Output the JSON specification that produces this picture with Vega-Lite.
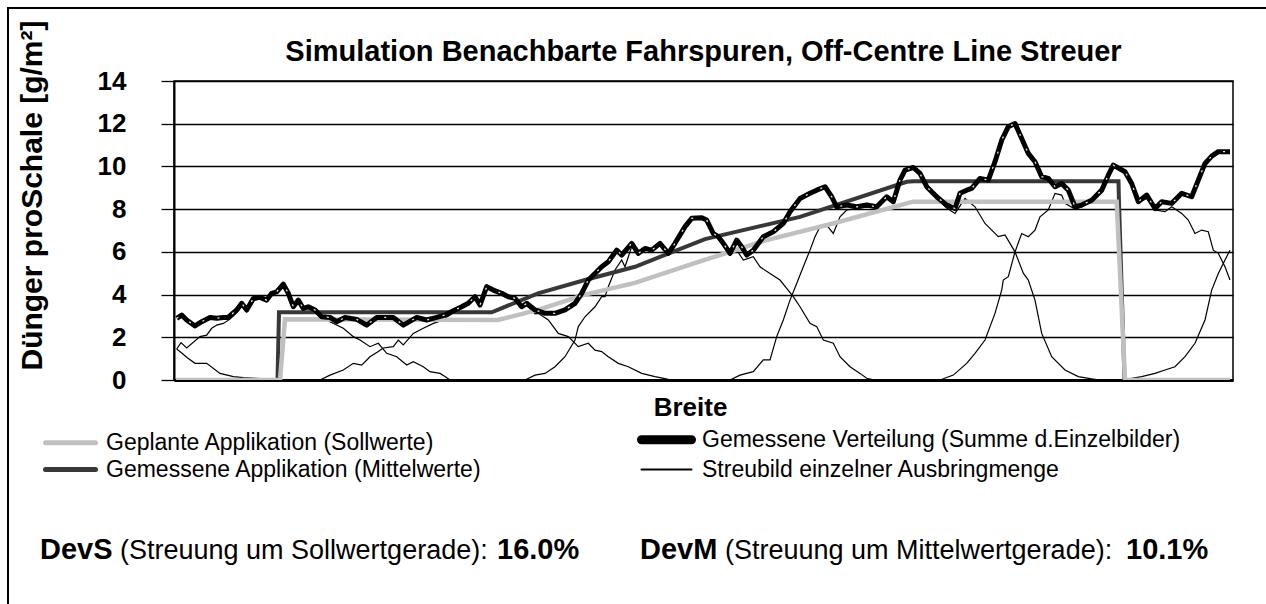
{
  "$schema": "https://vega.github.io/schema/vega-lite/v6.json",
  "width": 1059,
  "height": 299,
  "autosize": {"type": "none"},
  "padding": {"left": 174, "top": 81, "right": 33, "bottom": 224},
  "background": "white",
  "config": {
    "font": "Liberation Sans",
    "view": {"stroke": "#000", "strokeWidth": 1.5},
    "legend": {
      "orient": "none", "legendX": -132, "legendY": 347, "columns": 2, "columnPadding": 141,
      "symbolType": "M-1,0H5.25", "symbolSize": 256, "labelFontSize": 23, "labelFont": "Liberation Sans",
      "labelColor": "#000", "rowPadding": 0, "labelOffset": 41, "labelLimit": 700
    }
  },
  "title": {"text": "Simulation Benachbarte Fahrspuren, Off-Centre Line Streuer", "fontSize": 29, "fontWeight": "bold", "anchor": "middle", "frame": "group", "offset": 0, "dy": 60, "color": "#000"},
  "datasets": {
    "d": [
      {"s":"streu","c":"A0","x":2.7,"v":1.45},{"s":"streu","c":"A0","x":8,"v":1.25},{"s":"streu","c":"A0","x":13,"v":1.05},{"s":"streu","c":"A0","x":21,"v":0.78},{"s":"streu","c":"A0","x":32.7,"v":0.78},{"s":"streu","c":"A0","x":46,"v":0.31},{"s":"streu","c":"A0","x":59.3,"v":0.16},{"s":"streu","c":"A0","x":69.3,"v":0.11},{"s":"streu","c":"A0","x":82.7,"v":0.08},{"s":"streu","c":"A0","x":96,"v":0.03},{"s":"streu","c":"A0","x":115,"v":0},
      {"s":"streu","c":"A","x":2.7,"v":1.45},{"s":"streu","c":"A","x":7,"v":1.75},{"s":"streu","c":"A","x":12.7,"v":1.5},{"s":"streu","c":"A","x":26,"v":2.03},{"s":"streu","c":"A","x":32.7,"v":2.1},{"s":"streu","c":"A","x":37.7,"v":2.42},{"s":"streu","c":"A","x":42.7,"v":2.57},{"s":"streu","c":"A","x":49.3,"v":2.65},{"s":"streu","c":"A","x":56,"v":2.85},{"s":"streu","c":"A","x":62.7,"v":3.15},{"s":"streu","c":"A","x":67.7,"v":3.45},{"s":"streu","c":"A","x":72.7,"v":3.18},{"s":"streu","c":"A","x":79.3,"v":3.72},{"s":"streu","c":"A","x":86,"v":3.8},{"s":"streu","c":"A","x":92.7,"v":3.7},{"s":"streu","c":"A","x":97.7,"v":4.02},{"s":"streu","c":"A","x":102.7,"v":4.1},{"s":"streu","c":"A","x":109.3,"v":4.45},{"s":"streu","c":"A","x":114.3,"v":4.03},{"s":"streu","c":"A","x":119.3,"v":3.4},{"s":"streu","c":"A","x":124.3,"v":3.72},{"s":"streu","c":"A","x":129.3,"v":3.33},{"s":"streu","c":"A","x":134.3,"v":3.41},{"s":"streu","c":"A","x":141,"v":3.26},{"s":"streu","c":"A","x":146,"v":3.1},{"s":"streu","c":"A","x":156,"v":2.73},{"s":"streu","c":"A","x":169.3,"v":2.42},{"s":"streu","c":"A","x":179.3,"v":2.03},{"s":"streu","c":"A","x":186,"v":1.87},{"s":"streu","c":"A","x":196,"v":1.56},{"s":"streu","c":"A","x":204.3,"v":1.72},{"s":"streu","c":"A","x":212.7,"v":1.25},{"s":"streu","c":"A","x":222.7,"v":1.09},{"s":"streu","c":"A","x":232.7,"v":0.7},{"s":"streu","c":"A","x":239.3,"v":0.86},{"s":"streu","c":"A","x":249.3,"v":0.62},{"s":"streu","c":"A","x":256,"v":0.39},{"s":"streu","c":"A","x":266,"v":0.31},{"s":"streu","c":"A","x":271,"v":0.16},{"s":"streu","c":"A","x":276,"v":0},
      {"s":"streu","c":"B","x":146,"v":0},{"s":"streu","c":"B","x":156,"v":0.23},{"s":"streu","c":"B","x":169.3,"v":0.47},{"s":"streu","c":"B","x":179.3,"v":0.78},{"s":"streu","c":"B","x":187.7,"v":0.7},{"s":"streu","c":"B","x":196,"v":1.09},{"s":"streu","c":"B","x":204.3,"v":1.33},{"s":"streu","c":"B","x":209.3,"v":1.5},{"s":"streu","c":"B","x":219.3,"v":1.56},{"s":"streu","c":"B","x":224.3,"v":1.87},{"s":"streu","c":"B","x":229.3,"v":1.64},{"s":"streu","c":"B","x":239.3,"v":2.18},{"s":"streu","c":"B","x":249.3,"v":2.42},{"s":"streu","c":"B","x":259.3,"v":2.65},{"s":"streu","c":"B","x":266,"v":2.75},{"s":"streu","c":"B","x":271,"v":2.89},{"s":"streu","c":"B","x":281,"v":3.2},{"s":"streu","c":"B","x":287.7,"v":3.4},{"s":"streu","c":"B","x":294.3,"v":3.55},{"s":"streu","c":"B","x":301,"v":3.87},{"s":"streu","c":"B","x":306,"v":3.48},{"s":"streu","c":"B","x":312.7,"v":4.34},{"s":"streu","c":"B","x":319.3,"v":4.18},{"s":"streu","c":"B","x":327.7,"v":4.03},{"s":"streu","c":"B","x":334.3,"v":3.87},{"s":"streu","c":"B","x":341,"v":3.78},{"s":"streu","c":"B","x":347.7,"v":3.4},{"s":"streu","c":"B","x":352.7,"v":3.5},{"s":"streu","c":"B","x":361,"v":3.1},{"s":"streu","c":"B","x":364.3,"v":3.12},{"s":"streu","c":"B","x":374.3,"v":2.81},{"s":"streu","c":"B","x":384.3,"v":2.18},{"s":"streu","c":"B","x":394.3,"v":2.03},{"s":"streu","c":"B","x":404.3,"v":1.56},{"s":"streu","c":"B","x":414.3,"v":1.72},{"s":"streu","c":"B","x":421,"v":1.4},{"s":"streu","c":"B","x":427.7,"v":1.33},{"s":"streu","c":"B","x":434.3,"v":1.09},{"s":"streu","c":"B","x":444.3,"v":0.78},{"s":"streu","c":"B","x":454.3,"v":0.62},{"s":"streu","c":"B","x":467.7,"v":0.31},{"s":"streu","c":"B","x":481,"v":0.16},{"s":"streu","c":"B","x":494.3,"v":0.03},{"s":"streu","c":"B","x":506,"v":0},
      {"s":"streu","c":"C","x":351,"v":0},{"s":"streu","c":"C","x":361,"v":0.23},{"s":"streu","c":"C","x":371,"v":0.31},{"s":"streu","c":"C","x":381,"v":0.62},{"s":"streu","c":"C","x":391,"v":1.09},{"s":"streu","c":"C","x":401,"v":1.87},{"s":"streu","c":"C","x":404.3,"v":2.5},{"s":"streu","c":"C","x":411,"v":2.96},{"s":"streu","c":"C","x":421,"v":3.43},{"s":"streu","c":"C","x":427.7,"v":3.9},{"s":"streu","c":"C","x":431,"v":3.9},{"s":"streu","c":"C","x":434.3,"v":4.37},{"s":"streu","c":"C","x":441,"v":5.15},{"s":"streu","c":"C","x":447.7,"v":5.62},{"s":"streu","c":"C","x":451,"v":5.3},{"s":"streu","c":"C","x":457.7,"v":6.24},{"s":"streu","c":"C","x":464.3,"v":5.85},{"s":"streu","c":"C","x":471,"v":6.1},{"s":"streu","c":"C","x":477.7,"v":6.05},{"s":"streu","c":"C","x":486,"v":6.38},{"s":"streu","c":"C","x":494.3,"v":5.93},{"s":"streu","c":"C","x":501,"v":6.4},{"s":"streu","c":"C","x":511,"v":7.18},{"s":"streu","c":"C","x":517.7,"v":7.57},{"s":"streu","c":"C","x":527.7,"v":7.6},{"s":"streu","c":"C","x":532.7,"v":7.49},{"s":"streu","c":"C","x":539.3,"v":6.86},{"s":"streu","c":"C","x":544.3,"v":6.71},{"s":"streu","c":"C","x":549.3,"v":6.35},{"s":"streu","c":"C","x":556,"v":5.85},{"s":"streu","c":"C","x":562.7,"v":6.08},{"s":"streu","c":"C","x":569.3,"v":5.62},{"s":"streu","c":"C","x":579.3,"v":5.77},{"s":"streu","c":"C","x":586,"v":5.3},{"s":"streu","c":"C","x":596,"v":4.99},{"s":"streu","c":"C","x":606,"v":4.68},{"s":"streu","c":"C","x":612.7,"v":4.29},{"s":"streu","c":"C","x":619.3,"v":3.9},{"s":"streu","c":"C","x":626,"v":3.43},{"s":"streu","c":"C","x":636,"v":2.65},{"s":"streu","c":"C","x":642.7,"v":2.5},{"s":"streu","c":"C","x":649.3,"v":1.87},{"s":"streu","c":"C","x":659.3,"v":1.72},{"s":"streu","c":"C","x":666,"v":1.09},{"s":"streu","c":"C","x":676,"v":0.62},{"s":"streu","c":"C","x":686,"v":0.31},{"s":"streu","c":"C","x":692.7,"v":0.08},{"s":"streu","c":"C","x":701,"v":0},
      {"s":"streu","c":"D","x":556,"v":0},{"s":"streu","c":"D","x":566,"v":0.23},{"s":"streu","c":"D","x":579.3,"v":0.39},{"s":"streu","c":"D","x":589.3,"v":0.94},{"s":"streu","c":"D","x":596,"v":0.94},{"s":"streu","c":"D","x":602.7,"v":2.03},{"s":"streu","c":"D","x":609.3,"v":2.81},{"s":"streu","c":"D","x":616,"v":3.74},{"s":"streu","c":"D","x":622.7,"v":4.52},{"s":"streu","c":"D","x":629.3,"v":5.3},{"s":"streu","c":"D","x":636,"v":6.08},{"s":"streu","c":"D","x":641,"v":6.71},{"s":"streu","c":"D","x":646,"v":7.18},{"s":"streu","c":"D","x":652.7,"v":7.25},{"s":"streu","c":"D","x":659.3,"v":6.86},{"s":"streu","c":"D","x":666,"v":7.64},{"s":"streu","c":"D","x":672.7,"v":7.96},{"s":"streu","c":"D","x":679.3,"v":8.0},{"s":"streu","c":"D","x":692.7,"v":8.1},{"s":"streu","c":"D","x":702.7,"v":8.08},{"s":"streu","c":"D","x":712.7,"v":8.55},{"s":"streu","c":"D","x":719.3,"v":8.33},{"s":"streu","c":"D","x":726,"v":9.35},{"s":"streu","c":"D","x":731,"v":9.82},{"s":"streu","c":"D","x":739.3,"v":9.94},{"s":"streu","c":"D","x":746,"v":9.65},{"s":"streu","c":"D","x":752.7,"v":9.02},{"s":"streu","c":"D","x":762.7,"v":8.5},{"s":"streu","c":"D","x":772.7,"v":8.05},{"s":"streu","c":"D","x":781,"v":7.8},{"s":"streu","c":"D","x":791,"v":8.5},{"s":"streu","c":"D","x":801,"v":8.11},{"s":"streu","c":"D","x":811,"v":7.33},{"s":"streu","c":"D","x":817.7,"v":7.02},{"s":"streu","c":"D","x":824.3,"v":6.71},{"s":"streu","c":"D","x":831,"v":6.79},{"s":"streu","c":"D","x":841,"v":6.0},{"s":"streu","c":"D","x":849.3,"v":5.0},{"s":"streu","c":"D","x":854.3,"v":4.68},{"s":"streu","c":"D","x":861,"v":3.74},{"s":"streu","c":"D","x":867.7,"v":2.18},{"s":"streu","c":"D","x":877.7,"v":1.09},{"s":"streu","c":"D","x":891,"v":0.47},{"s":"streu","c":"D","x":904.3,"v":0.16},{"s":"streu","c":"D","x":917.7,"v":0.05},{"s":"streu","c":"D","x":926,"v":0},
      {"s":"streu","c":"E","x":766,"v":0},{"s":"streu","c":"E","x":779.3,"v":0.23},{"s":"streu","c":"E","x":792.7,"v":0.78},{"s":"streu","c":"E","x":801,"v":1.25},{"s":"streu","c":"E","x":811,"v":1.87},{"s":"streu","c":"E","x":821,"v":3.12},{"s":"streu","c":"E","x":827.7,"v":4.21},{"s":"streu","c":"E","x":829.3,"v":4.68},{"s":"streu","c":"E","x":834.3,"v":4.84},{"s":"streu","c":"E","x":841,"v":6.0},{"s":"streu","c":"E","x":847.7,"v":6.86},{"s":"streu","c":"E","x":854.3,"v":6.71},{"s":"streu","c":"E","x":861,"v":7.02},{"s":"streu","c":"E","x":866,"v":7.64},{"s":"streu","c":"E","x":874.3,"v":7.96},{"s":"streu","c":"E","x":881,"v":8.74},{"s":"streu","c":"E","x":887.7,"v":8.66},{"s":"streu","c":"E","x":891,"v":8.27},{"s":"streu","c":"E","x":901,"v":8.0},{"s":"streu","c":"E","x":907.7,"v":8.1},{"s":"streu","c":"E","x":917.7,"v":8.38},{"s":"streu","c":"E","x":927.7,"v":8.87},{"s":"streu","c":"E","x":934.3,"v":9.57},{"s":"streu","c":"E","x":939.3,"v":10.04},{"s":"streu","c":"E","x":951,"v":9.72},{"s":"streu","c":"E","x":957.7,"v":9.15},{"s":"streu","c":"E","x":964.3,"v":8.3},{"s":"streu","c":"E","x":972.7,"v":8.5},{"s":"streu","c":"E","x":981,"v":7.96},{"s":"streu","c":"E","x":991,"v":7.88},{"s":"streu","c":"E","x":997.7,"v":8.11},{"s":"streu","c":"E","x":1007.7,"v":7.8},{"s":"streu","c":"E","x":1014.3,"v":7.49},{"s":"streu","c":"E","x":1021,"v":6.86},{"s":"streu","c":"E","x":1027.7,"v":7.02},{"s":"streu","c":"E","x":1034.3,"v":6.94},{"s":"streu","c":"E","x":1039.3,"v":6.08},{"s":"streu","c":"E","x":1044.3,"v":5.93},{"s":"streu","c":"E","x":1051,"v":5.3},{"s":"streu","c":"E","x":1056,"v":4.68},
      {"s":"streu","c":"F","x":947.7,"v":0},{"s":"streu","c":"F","x":967.7,"v":0.16},{"s":"streu","c":"F","x":981,"v":0.31},{"s":"streu","c":"F","x":991,"v":0.47},{"s":"streu","c":"F","x":1001,"v":0.62},{"s":"streu","c":"F","x":1011,"v":1.09},{"s":"streu","c":"F","x":1021,"v":1.72},{"s":"streu","c":"F","x":1031,"v":2.81},{"s":"streu","c":"F","x":1037.7,"v":4.21},{"s":"streu","c":"F","x":1044.3,"v":4.99},{"s":"streu","c":"F","x":1051,"v":5.62},{"s":"streu","c":"F","x":1056,"v":6.08},
      {"s":"soll","c":"S","x":2,"v":0},{"s":"soll","c":"S","x":106,"v":0},{"s":"soll","c":"S","x":111,"v":2.84},{"s":"soll","c":"S","x":324,"v":2.81},{"s":"soll","c":"S","x":364,"v":3.28},{"s":"soll","c":"S","x":411,"v":4.0},{"s":"soll","c":"S","x":461,"v":4.55},{"s":"soll","c":"S","x":526,"v":5.55},{"s":"soll","c":"S","x":592.7,"v":6.55},{"s":"soll","c":"S","x":659,"v":7.33},{"s":"soll","c":"S","x":732.7,"v":8.27},{"s":"soll","c":"S","x":739,"v":8.35},{"s":"soll","c":"S","x":942.7,"v":8.35},{"s":"soll","c":"S","x":951,"v":0},{"s":"soll","c":"S","x":1056,"v":0},
      {"s":"mittel","c":"M","x":103.5,"v":0},{"s":"mittel","c":"M","x":105,"v":3.17},{"s":"mittel","c":"M","x":317.7,"v":3.17},{"s":"mittel","c":"M","x":364,"v":4.06},{"s":"mittel","c":"M","x":411,"v":4.68},{"s":"mittel","c":"M","x":461,"v":5.3},{"s":"mittel","c":"M","x":531,"v":6.6},{"s":"mittel","c":"M","x":626,"v":7.64},{"s":"mittel","c":"M","x":732.7,"v":9.28},{"s":"mittel","c":"M","x":740,"v":9.31},{"s":"mittel","c":"M","x":944.5,"v":9.31},{"s":"mittel","c":"M","x":945,"v":8.3},{"s":"mittel","c":"M","x":950.5,"v":0},
      {"s":"summe","c":"V","x":2.7,"v":2.89},{"s":"summe","c":"V","x":7.7,"v":3.04},{"s":"summe","c":"V","x":12.7,"v":2.81},{"s":"summe","c":"V","x":21,"v":2.53},{"s":"summe","c":"V","x":27.7,"v":2.73},{"s":"summe","c":"V","x":36,"v":2.93},{"s":"summe","c":"V","x":42.7,"v":2.89},{"s":"summe","c":"V","x":49.3,"v":2.93},{"s":"summe","c":"V","x":54,"v":2.93},{"s":"summe","c":"V","x":62.7,"v":3.28},{"s":"summe","c":"V","x":67.7,"v":3.59},{"s":"summe","c":"V","x":72.7,"v":3.28},{"s":"summe","c":"V","x":79.3,"v":3.82},{"s":"summe","c":"V","x":86,"v":3.87},{"s":"summe","c":"V","x":92.7,"v":3.74},{"s":"summe","c":"V","x":97.7,"v":4.06},{"s":"summe","c":"V","x":102.7,"v":4.13},{"s":"summe","c":"V","x":109.3,"v":4.49},{"s":"summe","c":"V","x":114.3,"v":4.06},{"s":"summe","c":"V","x":119.3,"v":3.43},{"s":"summe","c":"V","x":124.3,"v":3.74},{"s":"summe","c":"V","x":129.3,"v":3.35},{"s":"summe","c":"V","x":134.3,"v":3.43},{"s":"summe","c":"V","x":141,"v":3.28},{"s":"summe","c":"V","x":147.7,"v":2.96},{"s":"summe","c":"V","x":156,"v":2.93},{"s":"summe","c":"V","x":162.7,"v":2.73},{"s":"summe","c":"V","x":171,"v":2.93},{"s":"summe","c":"V","x":182.7,"v":2.84},{"s":"summe","c":"V","x":192.7,"v":2.57},{"s":"summe","c":"V","x":202.7,"v":2.93},{"s":"summe","c":"V","x":212.7,"v":2.93},{"s":"summe","c":"V","x":219.3,"v":2.93},{"s":"summe","c":"V","x":229.3,"v":2.57},{"s":"summe","c":"V","x":242.7,"v":2.93},{"s":"summe","c":"V","x":252.7,"v":2.81},{"s":"summe","c":"V","x":262.7,"v":2.93},{"s":"summe","c":"V","x":271,"v":3.04},{"s":"summe","c":"V","x":281,"v":3.28},{"s":"summe","c":"V","x":287.7,"v":3.43},{"s":"summe","c":"V","x":294.3,"v":3.59},{"s":"summe","c":"V","x":301,"v":3.9},{"s":"summe","c":"V","x":306,"v":3.51},{"s":"summe","c":"V","x":312.7,"v":4.37},{"s":"summe","c":"V","x":319.3,"v":4.21},{"s":"summe","c":"V","x":327.7,"v":4.06},{"s":"summe","c":"V","x":334.3,"v":3.9},{"s":"summe","c":"V","x":341,"v":3.82},{"s":"summe","c":"V","x":347.7,"v":3.43},{"s":"summe","c":"V","x":352.7,"v":3.59},{"s":"summe","c":"V","x":361,"v":3.28},{"s":"summe","c":"V","x":371,"v":3.12},{"s":"summe","c":"V","x":381,"v":3.12},{"s":"summe","c":"V","x":391,"v":3.28},{"s":"summe","c":"V","x":401,"v":3.59},{"s":"summe","c":"V","x":407.7,"v":4.06},{"s":"summe","c":"V","x":414.3,"v":4.68},{"s":"summe","c":"V","x":421,"v":4.99},{"s":"summe","c":"V","x":427.7,"v":5.3},{"s":"summe","c":"V","x":434.3,"v":5.54},{"s":"summe","c":"V","x":442.7,"v":6.08},{"s":"summe","c":"V","x":447.7,"v":5.85},{"s":"summe","c":"V","x":457.7,"v":6.4},{"s":"summe","c":"V","x":464.3,"v":5.93},{"s":"summe","c":"V","x":471,"v":6.16},{"s":"summe","c":"V","x":477.7,"v":6.08},{"s":"summe","c":"V","x":486,"v":6.4},{"s":"summe","c":"V","x":494.3,"v":5.93},{"s":"summe","c":"V","x":501,"v":6.4},{"s":"summe","c":"V","x":511,"v":7.18},{"s":"summe","c":"V","x":517.7,"v":7.57},{"s":"summe","c":"V","x":527.7,"v":7.6},{"s":"summe","c":"V","x":532.7,"v":7.49},{"s":"summe","c":"V","x":539.3,"v":6.86},{"s":"summe","c":"V","x":544.3,"v":6.71},{"s":"summe","c":"V","x":549.3,"v":6.4},{"s":"summe","c":"V","x":556,"v":5.93},{"s":"summe","c":"V","x":562.7,"v":6.55},{"s":"summe","c":"V","x":567.7,"v":6.24},{"s":"summe","c":"V","x":572.7,"v":5.85},{"s":"summe","c":"V","x":579.3,"v":6.08},{"s":"summe","c":"V","x":589.3,"v":6.71},{"s":"summe","c":"V","x":599.3,"v":6.94},{"s":"summe","c":"V","x":609.3,"v":7.33},{"s":"summe","c":"V","x":616,"v":7.88},{"s":"summe","c":"V","x":626,"v":8.5},{"s":"summe","c":"V","x":636,"v":8.74},{"s":"summe","c":"V","x":642.7,"v":8.89},{"s":"summe","c":"V","x":651,"v":9.05},{"s":"summe","c":"V","x":657.7,"v":8.58},{"s":"summe","c":"V","x":662.7,"v":8.11},{"s":"summe","c":"V","x":672.7,"v":8.19},{"s":"summe","c":"V","x":682.7,"v":8.11},{"s":"summe","c":"V","x":692.7,"v":8.19},{"s":"summe","c":"V","x":702.7,"v":8.11},{"s":"summe","c":"V","x":712.7,"v":8.58},{"s":"summe","c":"V","x":719.3,"v":8.35},{"s":"summe","c":"V","x":726,"v":9.36},{"s":"summe","c":"V","x":731,"v":9.83},{"s":"summe","c":"V","x":739.3,"v":9.95},{"s":"summe","c":"V","x":746,"v":9.67},{"s":"summe","c":"V","x":752.7,"v":9.05},{"s":"summe","c":"V","x":762.7,"v":8.58},{"s":"summe","c":"V","x":772.7,"v":8.19},{"s":"summe","c":"V","x":781,"v":8.03},{"s":"summe","c":"V","x":786,"v":8.74},{"s":"summe","c":"V","x":792.7,"v":8.89},{"s":"summe","c":"V","x":797.7,"v":8.97},{"s":"summe","c":"V","x":806,"v":9.44},{"s":"summe","c":"V","x":814.3,"v":9.36},{"s":"summe","c":"V","x":821,"v":10.22},{"s":"summe","c":"V","x":827.7,"v":11.23},{"s":"summe","c":"V","x":834.3,"v":11.86},{"s":"summe","c":"V","x":841,"v":12.01},{"s":"summe","c":"V","x":847.7,"v":11.31},{"s":"summe","c":"V","x":854.3,"v":10.61},{"s":"summe","c":"V","x":861,"v":10.22},{"s":"summe","c":"V","x":867.7,"v":9.52},{"s":"summe","c":"V","x":874.3,"v":9.44},{"s":"summe","c":"V","x":881,"v":9.05},{"s":"summe","c":"V","x":887.7,"v":9.2},{"s":"summe","c":"V","x":894.3,"v":8.89},{"s":"summe","c":"V","x":901,"v":8.11},{"s":"summe","c":"V","x":907.7,"v":8.19},{"s":"summe","c":"V","x":917.7,"v":8.42},{"s":"summe","c":"V","x":927.7,"v":8.89},{"s":"summe","c":"V","x":934.3,"v":9.59},{"s":"summe","c":"V","x":939.3,"v":10.06},{"s":"summe","c":"V","x":951,"v":9.75},{"s":"summe","c":"V","x":957.7,"v":9.2},{"s":"summe","c":"V","x":964.3,"v":8.35},{"s":"summe","c":"V","x":972.7,"v":8.66},{"s":"summe","c":"V","x":981,"v":8.03},{"s":"summe","c":"V","x":987.7,"v":8.35},{"s":"summe","c":"V","x":997.7,"v":8.27},{"s":"summe","c":"V","x":1007.7,"v":8.74},{"s":"summe","c":"V","x":1017.7,"v":8.58},{"s":"summe","c":"V","x":1024.3,"v":9.36},{"s":"summe","c":"V","x":1031,"v":10.14},{"s":"summe","c":"V","x":1037.7,"v":10.48},{"s":"summe","c":"V","x":1044.3,"v":10.69},{"s":"summe","c":"V","x":1056,"v":10.69}
    ]
  },
  "layer": [
    {
      "data": {"name": "d"},
      "encoding": {
        "x": {"field": "x", "type": "quantitative", "scale": {"domain": [0, 1059], "nice": false, "zero": false},
          "axis": {"title": "Breite", "labels": false, "ticks": false, "grid": false, "domainColor": "#000", "domainWidth": 3,
            "titleFontSize": 26, "titleFontWeight": "bold", "titleColor": "#000", "titlePadding": 14, "titleX": 516, "titleAlign": "center"}},
        "y": {"field": "v", "type": "quantitative", "scale": {"domain": [0, 14], "nice": false},
          "axis": {"values": [0, 2, 4, 6, 8, 10, 12, 14], "grid": true, "gridColor": "#000", "gridWidth": 1.3,
            "domainColor": "#000", "domainWidth": 2, "tickColor": "#000", "tickSize": 13, "tickWidth": 1.3,
            "labelFontSize": 26, "labelFontWeight": "bold", "labelColor": "#000", "labelPadding": 35,
            "title": "Dünger proSchale [g/m²]", "titleFontSize": 30, "titleFontWeight": "bold", "titleColor": "#000",
            "titleX": -142, "titleY": 114, "titleAngle": 270, "titleAlign": "center", "titleBaseline": "middle"}},
        "color": {"field": "s", "type": "nominal",
          "scale": {"domain": ["soll", "mittel", "summe", "streu"], "range": ["#c0c0c0", "#383838", "#000000", "#000000"]},
          "legend": {"title": null,
            "labelExpr": "datum.label == 'soll' ? 'Geplante Applikation (Sollwerte)' : datum.label == 'summe' ? 'Gemessene Verteilung  (Summe d.Einzelbilder)' : datum.label == 'mittel' ? 'Gemessene Applikation (Mittelwerte)' : 'Streubild einzelner Ausbringmenge'",
            "encode": {"symbols": {"update": {
              "strokeWidth": {"signal": "datum.value == 'summe' ? 9 : datum.value == 'streu' ? 2 : 5"},
              "stroke": {"signal": "datum.value == 'soll' ? '#c0c0c0' : '#000000'"},
              "strokeCap": {"value": "round"}}}}}}
      },
      "layer": [
        {
          "transform": [{"filter": "datum.s == 'streu'"}],
          "mark": {"type": "line", "strokeWidth": 1.2},
          "encoding": {"detail": {"field": "c"}}
        },
        {
          "transform": [{"filter": "datum.s == 'mittel'"}],
          "mark": {"type": "line", "strokeWidth": 4}
        },
        {
          "transform": [{"filter": "datum.s == 'soll'"}],
          "mark": {"type": "line", "strokeWidth": 4.5, "clip": true}
        },
        {
          "transform": [{"filter": "datum.s == 'summe'"}],
          "mark": {"type": "line", "strokeWidth": 5, "strokeJoin": "round"}
        },
        {
          "transform": [{"filter": "datum.s == 'summe'"}],
          "mark": {"type": "line", "strokeWidth": 1.3, "strokeDash": [2, 14], "opacity": 0.9},
          "encoding": {"color": {"value": "#ffffff"}}
        }
      ]
    },
    {
      "data": {"values": [{"f": 1}]},
      "mark": {"type": "rect", "fill": "transparent", "stroke": "#000", "strokeWidth": 2, "clip": false},
      "encoding": {
        "x": {"datum": -166, "type": "quantitative", "scale": {"domain": [0, 1059], "nice": false, "zero": false}},
        "x2": {"datum": 1130},
        "y": {"datum": 17.42, "type": "quantitative", "scale": {"domain": [0, 14], "nice": false}},
        "y2": {"datum": -11.5}
      }
    },
    {
      "data": {"values": [{"t": "DevS"}]},
      "mark": {"type": "text", "align": "left", "baseline": "alphabetic", "fontSize": 29, "fontWeight": "bold", "color": "#000", "clip": false},
      "encoding": {
        "x": {"datum": -134, "type": "quantitative", "scale": {"domain": [0, 1059], "nice": false, "zero": false}},
        "y": {"datum": -8.38, "type": "quantitative", "scale": {"domain": [0, 14], "nice": false}},
        "text": {"field": "t"}}
    },
    {
      "data": {"values": [{"t": "(Streuung um Sollwertgerade):"}]},
      "mark": {"type": "text", "align": "left", "baseline": "alphabetic", "fontSize": 27, "color": "#000", "clip": false},
      "encoding": {
        "x": {"datum": -54, "type": "quantitative", "scale": {"domain": [0, 1059], "nice": false, "zero": false}},
        "y": {"datum": -8.38, "type": "quantitative", "scale": {"domain": [0, 14], "nice": false}},
        "text": {"field": "t"}}
    },
    {
      "data": {"values": [{"t": "16.0%"}]},
      "mark": {"type": "text", "align": "left", "baseline": "alphabetic", "fontSize": 29, "fontWeight": "bold", "color": "#000", "clip": false},
      "encoding": {
        "x": {"datum": 323, "type": "quantitative", "scale": {"domain": [0, 1059], "nice": false, "zero": false}},
        "y": {"datum": -8.38, "type": "quantitative", "scale": {"domain": [0, 14], "nice": false}},
        "text": {"field": "t"}}
    },
    {
      "data": {"values": [{"t": "DevM"}]},
      "mark": {"type": "text", "align": "left", "baseline": "alphabetic", "fontSize": 29, "fontWeight": "bold", "color": "#000", "clip": false},
      "encoding": {
        "x": {"datum": 466, "type": "quantitative", "scale": {"domain": [0, 1059], "nice": false, "zero": false}},
        "y": {"datum": -8.38, "type": "quantitative", "scale": {"domain": [0, 14], "nice": false}},
        "text": {"field": "t"}}
    },
    {
      "data": {"values": [{"t": "(Streuung um Mittelwertgerade):"}]},
      "mark": {"type": "text", "align": "left", "baseline": "alphabetic", "fontSize": 27, "color": "#000", "clip": false},
      "encoding": {
        "x": {"datum": 551, "type": "quantitative", "scale": {"domain": [0, 1059], "nice": false, "zero": false}},
        "y": {"datum": -8.38, "type": "quantitative", "scale": {"domain": [0, 14], "nice": false}},
        "text": {"field": "t"}}
    },
    {
      "data": {"values": [{"t": "10.1%"}]},
      "mark": {"type": "text", "align": "left", "baseline": "alphabetic", "fontSize": 29, "fontWeight": "bold", "color": "#000", "clip": false},
      "encoding": {
        "x": {"datum": 952, "type": "quantitative", "scale": {"domain": [0, 1059], "nice": false, "zero": false}},
        "y": {"datum": -8.38, "type": "quantitative", "scale": {"domain": [0, 14], "nice": false}},
        "text": {"field": "t"}}
    }
  ]
}
